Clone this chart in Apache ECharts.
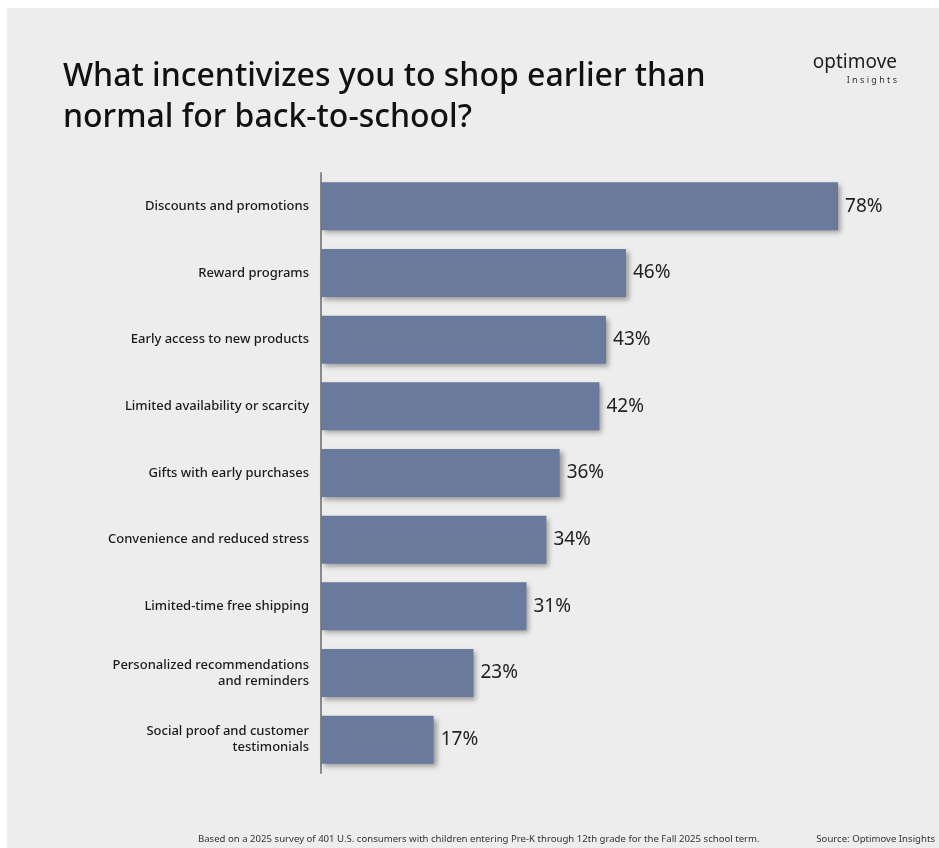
<!DOCTYPE html>
<html>
<head>
<meta charset="utf-8">
<script src="https://cdn.jsdelivr.net/npm/echarts@6/dist/echarts.min.js"></script>
<style>
  html, body { margin: 0; padding: 0; background: #ffffff; }
  #chart { width: 939px; height: 848px; }
</style>
</head>
<body>
<div id="chart"></div>
<script>
// Survey answers, top to bottom
const categories = [
  'Discounts and promotions',
  'Reward programs',
  'Early access to new products',
  'Limited availability or scarcity',
  'Gifts with early purchases',
  'Convenience and reduced stress',
  'Limited-time free shipping',
  'Personalized recommendations\nand reminders',
  'Social proof and customer\ntestimonials'
];
// Share of respondents (%)
const shares = [78, 46, 43, 42, 36, 34, 31, 23, 17];

const titleText = 'What incentivizes you to shop earlier than\nnormal for back-to-school?';
const footnoteText = 'Based on a 2025 survey of 401 U.S. consumers with children entering Pre-K through 12th grade for the Fall 2025 school term.';
const sourceText = 'Source: Optimove Insights';

const FONT = '"Noto Sans", Lato, sans-serif';

const chart = echarts.init(document.getElementById('chart'), null, { renderer: 'canvas' });

chart.setOption({
  backgroundColor: '#ffffff',
  animation: false,
  graphic: [
    {
      type: 'rect', z: -10, silent: true,
      shape: { x: 7, y: 8, width: 940, height: 850 },
      style: { fill: '#ededed' }
    },
    {
      type: 'text', left: 63, top: 56,
      style: {
        text: titleText, fill: '#111111',
        font: '500 32px ' + FONT, lineHeight: 41
      }
    },
    {
      type: 'text', right: 42, top: 53,
      style: { text: 'optimove', fill: '#1e1e1e', font: '400 19px ' + FONT, align: 'right' }
    },
    {
      type: 'text', right: 42, top: 76,
      style: { text: 'I n s i g h t s', fill: '#333333', font: '400 9px ' + FONT, align: 'right' }
    },
    {
      type: 'text', left: 198, top: 834,
      style: { text: footnoteText, fill: '#333333', font: '400 9.6px ' + FONT }
    },
    {
      type: 'text', right: 4, top: 834,
      style: { text: sourceText, fill: '#333333', font: '400 9.6px ' + FONT, align: 'right' }
    }
  ],
  grid: { left: 321, top: 173, height: 600, width: 530.3, containLabel: false },
  xAxis: {
    type: 'value', min: 0, max: 80,
    show: false
  },
  yAxis: {
    type: 'category',
    inverse: true,
    data: categories,
    axisLine: { show: true, lineStyle: { color: '#8a8a8a', width: 2 } },
    axisTick: { show: false },
    axisLabel: {
      color: '#1a1a1a', fontFamily: FONT, fontSize: 13, fontWeight: 500,
      margin: 12, lineHeight: 16, align: 'right'
    }
  },
  series: [{
    type: 'bar',
    data: shares,
    barWidth: 48,
    itemStyle: {
      color: '#6a7a9c',
      shadowColor: 'rgba(0,0,0,0.35)',
      shadowBlur: 5,
      shadowOffsetX: 3,
      shadowOffsetY: 3
    },
    label: {
      show: true, position: 'right', distance: 7,
      formatter: p => p.value + '%',
      color: '#222222', fontFamily: FONT, fontSize: 19, fontWeight: 400
    }
  }]
});
</script>
</body>
</html>
